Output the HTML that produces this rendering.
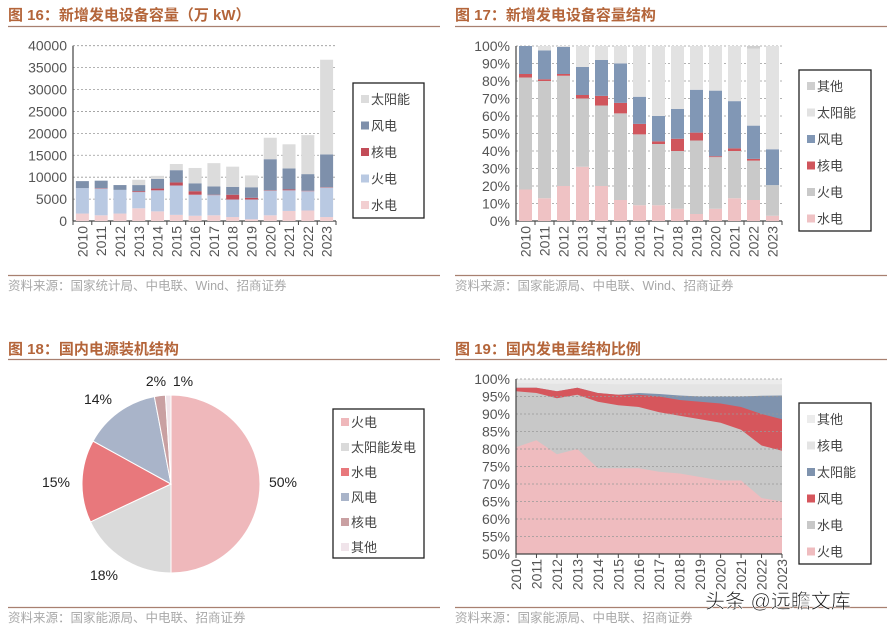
<!DOCTYPE html>
<html><head><meta charset="utf-8">
<style>
html,body{margin:0;padding:0;background:#fff;}
svg{display:block;font-family:"Liberation Sans","Noto Sans CJK SC",sans-serif;}
.t{font-weight:bold;fill:#b4653a;font-size:15px;}
.src{fill:#a8a8a8;font-size:12.5px;}
.ax{font-size:14px;fill:#555;}
.lg{font-size:13px;fill:#444;}
</style></head>
<body>
<svg id="s" width="887" height="631" viewBox="0 0 887 631" xmlns="http://www.w3.org/2000/svg">
<text class="t" x="8" y="20">图 16：新增发电设备容量（万 kW）</text>
<text class="t" x="455" y="20">图 17：新增发电设备容量结构</text>
<text class="t" x="8" y="354">图 18：国内电源装机结构</text>
<text class="t" x="455" y="354">图 19：国内发电量结构比例</text>
<line x1="8" y1="26.5" x2="440" y2="26.5" stroke="#a88070" stroke-width="1.2"/>
<line x1="455" y1="26.5" x2="887" y2="26.5" stroke="#a88070" stroke-width="1.2"/>
<line x1="8" y1="359.5" x2="440" y2="359.5" stroke="#a88070" stroke-width="1.2"/>
<line x1="455" y1="359.5" x2="887" y2="359.5" stroke="#a88070" stroke-width="1.2"/>
<line x1="8" y1="275.5" x2="440" y2="275.5" stroke="#a88070" stroke-width="1.2"/>
<line x1="455" y1="275.5" x2="887" y2="275.5" stroke="#a88070" stroke-width="1.2"/>
<line x1="8" y1="607.5" x2="440" y2="607.5" stroke="#a88070" stroke-width="1.2"/>
<line x1="455" y1="607.5" x2="887" y2="607.5" stroke="#a88070" stroke-width="1.2"/>
<text class="src" x="8" y="290">资料来源：国家统计局、中电联、Wind、招商证券</text>
<text class="src" x="455" y="290">资料来源：国家能源局、中电联、Wind、招商证券</text>
<text class="src" x="8" y="622">资料来源：国家能源局、中电联、招商证券</text>
<text class="src" x="455" y="622">资料来源：国家能源局、中电联、招商证券</text>
<g id="c1"></g><g id="c2"></g><g id="c3"></g><g id="c4"></g>
<text x="705" y="608" font-size="20" fill="#111" stroke="#fff" stroke-width="0.6">头条 @远瞻文库</text>
</svg>
<script>
const years=['2010','2011','2012','2013','2014','2015','2016','2017','2018','2019','2020','2021','2022','2023'];
// Fig16 (万kW)
const f16Hydro=[1700,1300,1700,2900,2200,1400,1200,1300,900,400,1300,2300,2400,900];
const f16Thermal=[5800,6100,5400,3700,4800,6700,4800,4600,4000,4500,5600,4700,4400,6700];
const f16Nuclear=[0,100,0,200,400,700,800,100,1100,400,100,200,100,100];
const f16Wind=[1600,1700,1100,1400,2200,2800,1800,1900,1800,2400,7100,4800,3800,7500];
const f16Solar=[0,0,0,1200,700,1400,3500,5300,4600,2700,4900,5500,8900,21600];
const f16Ticks=[0,5000,10000,15000,20000,25000,30000,35000,40000];
// Fig17 (%)
const f17Hydro=[18,13,20,31,20,12,9,9,7,4,7,13,12,3];
const f17Thermal=[64,67,63,39,46,49.5,40.5,35,33,42,29.5,27,22.5,17.5];
const f17Nuclear=[2,1,1,2,5.5,6,6,1.5,7,4.5,0.5,1.5,1,0];
const f17Wind=[16,16.5,15.5,16,20.5,22.5,15.5,14.5,17,24.5,37.5,27,19,20.5];
const f17Solar=[0,2.5,0.5,12,8,10,29,40,36,25,25.5,31.5,44,59];
const f17Other=[0,0,0,0,0,0,0,0,0,0,0,0,1.5,0];
const pctTicks=[0,10,20,30,40,50,60,70,80,90,100];
// Fig18 pie
const pieLabels=['火电','太阳能发电','水电','风电','核电','其他'];
const pieValues=[50,18,15,14,2,1];
// Fig19 cumulative tops (%)
const f19Thermal=[80.5,82.5,78.5,80,74.5,74.5,74.5,73.5,73,72,71,71,66,65];
const f19HydroTop=[96.5,96,94.5,95.5,93.5,92.5,92,90.5,89.5,88.5,87.5,85.5,81,79.5];
const f19WindTop=[97.5,97.5,96.5,97.5,96,95.5,95.5,95,94,93.5,93,92,90,88.5];
const f19SolarTop=[97.5,97.5,96.5,97.5,96,95.5,96,95.7,95.3,95,95,95,95.2,95.3];
const f19NuclearTop=[98.8,98.8,98.6,98.8,98.6,98.5,98.5,98.5,98.5,98.5,98.5,98.5,98.5,98.5];
const f19Ticks=[50,55,60,65,70,75,80,85,90,95,100];

const NS='http://www.w3.org/2000/svg';
function mk(parent,tag,attrs,txt){const e=document.createElementNS(NS,tag);for(const k in attrs)e.setAttribute(k,attrs[k]);if(txt!=null)e.textContent=txt;parent.appendChild(e);return e;}

function axes(g,x0,x1,yTop,yBot,ticks,fmt,yfn,cats,xfn,tickXs){
  ticks.forEach(v=>{const y=yfn(v);
    if(v!==ticks[0]){const l=mk(g,'line',{x1:x0,x2:x1,y1:y,y2:y,stroke:'#999','stroke-dasharray':'2,2','stroke-width':0.8});
    
    }
    const t=mk(g,'text',{x:x0-6,y:y+5,'text-anchor':'end',class:'ax'},fmt(v));
    
    
  });
  const a=mk(g,'line',{x1:x0,x2:x0,y1:yTop,y2:yBot,stroke:'#444','stroke-width':1.2});
  
  
  const b=mk(g,'line',{x1:x0,x2:x1,y1:yBot,y2:yBot,stroke:'#444','stroke-width':1.2});
  
  
  tickXs.forEach(x=>{const l=mk(g,'line',{x1:x,x2:x,y1:yBot,y2:yBot+4,stroke:'#444'});
    
    });
  cats.forEach((c,i)=>{const x=xfn(i);
    const t=mk(g,'text',{x:0,y:0,transform:`translate(${x+5},${yBot+5}) rotate(-90)`,'text-anchor':'end',class:'ax'},c);
    
    });
}
function legend(g,x,y,w,h,items,gap,startY){
  const r=mk(g,'rect',{x,y,width:w,height:h,fill:'#fff',stroke:'#222','stroke-width':1.3});
  
  
  items.forEach((it,i)=>{const yy=startY+i*gap;
    const s=mk(g,'rect',{x:x+8,y:yy-9,width:8,height:8,fill:it[1]});
    
    
    const t=mk(g,'text',{x:x+18,y:yy,class:'lg'},it[0]);
    
    });
}
function bars(g,series,colors,names,xfn,yfn,bw){
  years.forEach((yr,i)=>{let acc=0;
    series.forEach((s,k)=>{const v=s[i];if(v<=0){return;}
      const y1=yfn(acc+v),y0=yfn(acc);
      const r=mk(g,'rect',{x:xfn(i)-bw/2,y:y1,width:bw,height:y0-y1,fill:colors[k]});
      
      
      acc+=v;});
  });
}
// Fig16
(function(){
  const g=document.getElementById('c1');
  const x0=73,x1=336,yT=45.7,yB=221,mx=40000;
  const yfn=v=>yB-(yB-yT)*v/mx;
  const step=(x1-x0)/14; const xfn=i=>x0+step*(i+0.5);
  axes(g,x0,x1,yT,yB,f16Ticks,v=>String(v),yfn,years,xfn,years.map((_,i)=>x0+step*i).concat([x1]));
  bars(g,[f16Hydro,f16Thermal,f16Nuclear,f16Wind,f16Solar],['#f2cfd1','#b9c9e2','#c24c58','#7e90ab','#dcdcdc'],['hydro','thermal','nuclear','wind','solar'],xfn,yfn,13);
  legend(g,353,83,71,135,[['太阳能','#dcdcdc'],['风电','#7e90ab'],['核电','#c24c58'],['火电','#b9c9e2'],['水电','#f2cfd1']],26.5,104);
})();
// Fig17
(function(){
  const g=document.getElementById('c2');
  const x0=516,x1=782,yT=46,yB=221;
  const yfn=v=>yB-(yB-yT)*v/100;
  const step=(x1-x0)/14; const xfn=i=>x0+step*(i+0.5);
  axes(g,x0,x1,yT,yB,pctTicks,v=>v+'%',yfn,years,xfn,years.map((_,i)=>x0+step*i).concat([x1]));
  bars(g,[f17Hydro,f17Thermal,f17Nuclear,f17Wind,f17Solar,f17Other],['#efc2c4','#c9c9c9','#d0555c','#8197b5','#e2e2e2','#cfcfcf'],['hydro','thermal','nuclear','wind','solar','other'],xfn,yfn,13);
  legend(g,799,70,72,161,[['其他','#cfcfcf'],['太阳能','#e2e2e2'],['风电','#8197b5'],['核电','#d0555c'],['火电','#c9c9c9'],['水电','#efc2c4']],26.5,91);
})();
// Fig18 pie
(function(){
  const g=document.getElementById('c3');
  const cx=171,cy=484,R=89;
  const colors=['#efb8bb','#dadada','#e8787c','#a9b4c9','#c9a0a2','#f0e4ea'];
  const total=pieValues.reduce((a,b)=>a+b,0);
  let a0=0;
  const lbl=[[283,487],[104,580],[56,487],[98,404],[156,386],[183,386]];
  pieValues.forEach((v,i)=>{
    const a1=a0+v/total*2*Math.PI;
    const p=(a)=>[cx+R*Math.sin(a),cy-R*Math.cos(a)];
    const [xa,ya]=p(a0),[xb,yb]=p(a1);
    const d=`M${cx},${cy}L${xa},${ya}A${R},${R} 0 ${a1-a0>Math.PI?1:0} 1 ${xb},${yb}Z`;
    const s=mk(g,'path',{d,fill:colors[i],stroke:'#fff','stroke-width':1});
    
    
    const t=mk(g,'text',{x:lbl[i][0],y:lbl[i][1],'text-anchor':'middle',class:'ax',fill:'#222',style:'fill:#222'},v+'%');
    
    
    a0=a1;});
  legend(g,333,409,91,149,pieLabels.map((l,i)=>[l,colors[i]]),25,427);
})();
// Fig19 area
(function(){
  const g=document.getElementById('c4');
  const x0=516,x1=782,yT=379,yB=554;
  const yfn=v=>yB-(yB-yT)*(v-50)/50;
  const step=(x1-x0)/13; const xfn=i=>x0+step*i;
  const bg=mk(g,'rect',{x:x0,y:yT,width:x1-x0,height:yB-yT,fill:'#ececec'});
  
  
  const layers=[[f19NuclearTop,'#e4e4e4','nuclear'],[f19SolarTop,'#7f93ae','solar'],[f19WindTop,'#d6565c','wind'],[f19HydroTop,'#c8c8c8','hydro'],[f19Thermal,'#efbcbf','thermal']];
  layers.forEach(([arr,c,n])=>{
    let d=`M${xfn(0)},${yB}`;arr.forEach((v,i)=>{d+=`L${xfn(i)},${yfn(v)}`;});d+=`L${xfn(arr.length-1)},${yB}Z`;
    const p=mk(g,'path',{d,fill:c});
    
    });
  axes(g,x0,x1,yT,yB,f19Ticks,v=>v+'%',yfn,years,xfn,years.map((_,i)=>xfn(i)));
  legend(g,799,403,72,161,[['其他','#ececec'],['核电','#e4e4e4'],['太阳能','#7f93ae'],['风电','#d6565c'],['水电','#c8c8c8'],['火电','#efbcbf']],26.5,424);
})();
</script>
</body></html>
